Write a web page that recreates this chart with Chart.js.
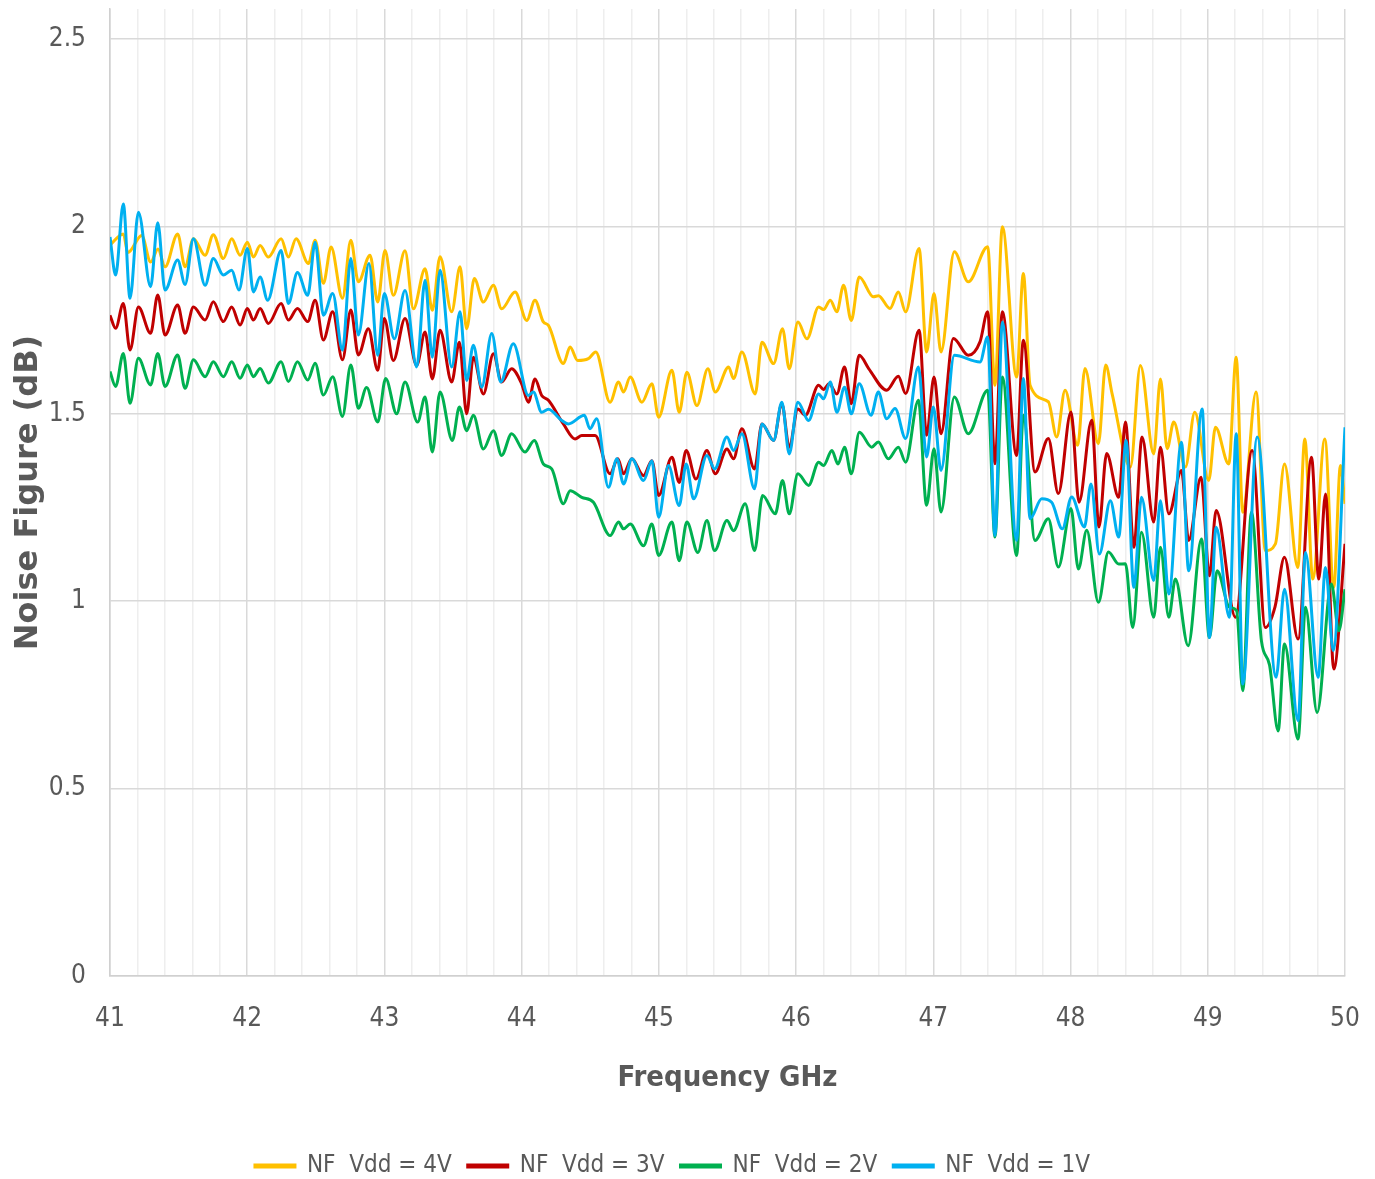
<!DOCTYPE html>
<html>
<head>
<meta charset="utf-8">
<script src="https://cdn.jsdelivr.net/npm/chart.js@4.4.1/dist/chart.umd.min.js"></script>
<style>
  html, body { margin: 0; padding: 0; background: #fff; }
  #wrap { width: 1375px; height: 1179px; }
</style>
</head>
<body>
<div id="wrap"><canvas id="chart"></canvas></div>
<script>
// frequency (GHz) / noise figure (dB) pairs, one pair of arrays per curve
var f4 = [41.00, 41.097, 41.13, 41.231, 41.296, 41.35, 41.401, 41.493, 41.547, 41.608, 41.693, 41.753, 41.826, 41.887, 41.948, 42.001, 42.045, 42.094, 42.154, 42.247, 42.300, 42.356, 42.446, 42.495, 42.555, 42.611, 42.694, 42.755, 42.810, 42.895, 42.951, 43.004, 43.065, 43.150, 43.211, 43.296, 43.349, 43.405, 43.490, 43.551, 43.599, 43.655, 43.721, 43.794, 43.854, 43.952, 44.037, 44.097, 44.158, 44.195, 44.304, 44.353, 44.408, 44.486, 44.540, 44.644, 44.706, 44.742, 44.791, 44.876, 44.949, 44.998, 45.095, 45.148, 45.204, 45.277, 45.357, 45.411, 45.508, 45.544, 45.605, 45.702, 45.751, 45.836, 45.901, 45.950, 46.013, 46.079, 46.164, 46.20, 46.249, 46.297, 46.346, 46.402, 46.460, 46.563, 46.600, 46.684, 46.745, 46.798, 46.896, 46.951, 47.005, 47.056, 47.153, 47.255, 47.396, 47.449, 47.503, 47.607, 47.656, 47.705, 47.838, 47.899, 47.960, 48.052, 48.105, 48.203, 48.256, 48.303, 48.436, 48.509, 48.606, 48.655, 48.704, 48.752, 48.837, 48.905, 49.007, 49.056, 49.153, 49.207, 49.255, 49.352, 49.420, 49.493, 49.559, 49.656, 49.707, 49.765, 49.853, 49.918, 49.967, 50.00];
var nf4 = [1.95, 1.980, 1.93, 1.976, 1.905, 1.94, 1.892, 1.980, 1.892, 1.967, 1.923, 1.978, 1.914, 1.967, 1.923, 1.958, 1.918, 1.949, 1.918, 1.967, 1.918, 1.967, 1.901, 1.963, 1.848, 1.945, 1.808, 1.963, 1.852, 1.923, 1.798, 1.936, 1.816, 1.935, 1.780, 1.887, 1.776, 1.919, 1.772, 1.892, 1.727, 1.861, 1.798, 1.843, 1.780, 1.825, 1.749, 1.803, 1.745, 1.736, 1.634, 1.678, 1.642, 1.647, 1.665, 1.531, 1.585, 1.558, 1.598, 1.531, 1.580, 1.491, 1.616, 1.504, 1.611, 1.522, 1.620, 1.558, 1.625, 1.594, 1.665, 1.553, 1.691, 1.634, 1.727, 1.620, 1.745, 1.700, 1.785, 1.778, 1.803, 1.772, 1.843, 1.749, 1.865, 1.812, 1.815, 1.781, 1.825, 1.772, 1.941, 1.665, 1.821, 1.665, 1.932, 1.852, 1.946, 1.576, 1.999, 1.598, 1.874, 1.576, 1.532, 1.438, 1.563, 1.416, 1.621, 1.420, 1.630, 1.553, 1.358, 1.629, 1.393, 1.593, 1.407, 1.478, 1.358, 1.504, 1.322, 1.464, 1.366, 1.651, 1.237, 1.558, 1.135, 1.153, 1.366, 1.090, 1.433, 1.059, 1.433, 1.037, 1.362, 1.260];

var f3 = [41.00, 41.041, 41.097, 41.146, 41.207, 41.296, 41.348, 41.401, 41.493, 41.547, 41.608, 41.693, 41.753, 41.826, 41.887, 41.948, 42.001, 42.045, 42.094, 42.154, 42.247, 42.300, 42.366, 42.441, 42.495, 42.555, 42.623, 42.694, 42.755, 42.810, 42.883, 42.951, 42.999, 43.065, 43.150, 43.235, 43.296, 43.349, 43.405, 43.490, 43.546, 43.599, 43.648, 43.721, 43.794, 43.854, 43.927, 44.000, 44.049, 44.097, 44.146, 44.195, 44.304, 44.389, 44.438, 44.535, 44.644, 44.701, 44.742, 44.803, 44.888, 44.949, 44.998, 45.095, 45.148, 45.199, 45.270, 45.350, 45.411, 45.496, 45.544, 45.605, 45.697, 45.751, 45.836, 45.896, 45.950, 46.013, 46.067, 46.164, 46.20, 46.241, 46.297, 46.353, 46.402, 46.460, 46.53, 46.660, 46.745, 46.798, 46.896, 46.951, 47.005, 47.056, 47.146, 47.255, 47.340, 47.396, 47.449, 47.503, 47.607, 47.656, 47.741, 47.838, 47.911, 48.003, 48.062, 48.154, 48.207, 48.263, 48.351, 48.400, 48.461, 48.521, 48.606, 48.655, 48.716, 48.808, 48.861, 48.951, 49.012, 49.061, 49.202, 49.323, 49.420, 49.49, 49.559, 49.658, 49.756, 49.809, 49.858, 49.918, 50.00];
var nf3 = [1.763, 1.728, 1.794, 1.670, 1.785, 1.715, 1.817, 1.710, 1.790, 1.715, 1.785, 1.750, 1.799, 1.746, 1.785, 1.737, 1.781, 1.750, 1.781, 1.741, 1.794, 1.750, 1.781, 1.746, 1.803, 1.697, 1.772, 1.644, 1.777, 1.657, 1.727, 1.616, 1.754, 1.642, 1.754, 1.629, 1.718, 1.593, 1.723, 1.585, 1.691, 1.500, 1.651, 1.553, 1.660, 1.585, 1.620, 1.580, 1.531, 1.593, 1.549, 1.536, 1.473, 1.433, 1.442, 1.442, 1.340, 1.380, 1.340, 1.380, 1.335, 1.375, 1.282, 1.384, 1.317, 1.402, 1.326, 1.402, 1.340, 1.406, 1.380, 1.460, 1.353, 1.473, 1.429, 1.527, 1.411, 1.513, 1.496, 1.576, 1.565, 1.580, 1.553, 1.625, 1.527, 1.656, 1.620, 1.563, 1.600, 1.554, 1.723, 1.443, 1.598, 1.447, 1.701, 1.656, 1.692, 1.772, 1.367, 1.772, 1.389, 1.696, 1.345, 1.434, 1.287, 1.505, 1.264, 1.483, 1.198, 1.394, 1.277, 1.478, 1.144, 1.438, 1.211, 1.411, 1.233, 1.349, 1.162, 1.331, 1.068, 1.242, 0.957, 1.402, 0.930, 0.985, 1.117, 0.899, 1.384, 1.059, 1.286, 0.819, 1.153];

var f2 = [41.00, 41.041, 41.097, 41.146, 41.207, 41.296, 41.348, 41.401, 41.493, 41.547, 41.608, 41.693, 41.753, 41.826, 41.887, 41.948, 42.001, 42.045, 42.094, 42.154, 42.247, 42.300, 42.366, 42.441, 42.495, 42.555, 42.623, 42.694, 42.755, 42.810, 42.87, 42.951, 43.009, 43.089, 43.150, 43.242, 43.296, 43.349, 43.405, 43.495, 43.546, 43.599, 43.648, 43.721, 43.794, 43.854, 43.927, 44.024, 44.092, 44.158, 44.219, 44.304, 44.353, 44.438, 44.523, 44.645, 44.706, 44.742, 44.791, 44.888, 44.949, 44.998, 45.095, 45.148, 45.204, 45.284, 45.350, 45.406, 45.496, 45.544, 45.629, 45.697, 45.756, 45.848, 45.901, 45.950, 46.013, 46.091, 46.164, 46.20, 46.261, 46.305, 46.353, 46.402, 46.461, 46.551, 46.599, 46.672, 46.745, 46.798, 46.891, 46.951, 47.005, 47.056, 47.153, 47.255, 47.396, 47.449, 47.503, 47.607, 47.656, 47.741, 47.838, 47.911, 48.003, 48.057, 48.118, 48.203, 48.276, 48.351, 48.40, 48.453, 48.517, 48.606, 48.655, 48.716, 48.764, 48.857, 48.954, 49.012, 49.068, 49.158, 49.21, 49.255, 49.318, 49.391, 49.45, 49.513, 49.559, 49.658, 49.712, 49.797, 49.901, 49.955, 50.00];
var nf2 = [1.613, 1.573, 1.661, 1.528, 1.648, 1.577, 1.661, 1.573, 1.657, 1.568, 1.644, 1.599, 1.639, 1.599, 1.639, 1.595, 1.630, 1.599, 1.621, 1.582, 1.639, 1.586, 1.639, 1.590, 1.635, 1.550, 1.599, 1.493, 1.630, 1.515, 1.570, 1.478, 1.594, 1.500, 1.585, 1.478, 1.545, 1.398, 1.558, 1.429, 1.518, 1.455, 1.496, 1.406, 1.455, 1.389, 1.447, 1.398, 1.429, 1.366, 1.353, 1.260, 1.295, 1.277, 1.264, 1.175, 1.211, 1.193, 1.206, 1.148, 1.206, 1.122, 1.211, 1.108, 1.211, 1.130, 1.215, 1.135, 1.215, 1.188, 1.260, 1.135, 1.282, 1.233, 1.322, 1.233, 1.340, 1.309, 1.371, 1.362, 1.402, 1.366, 1.411, 1.340, 1.451, 1.411, 1.425, 1.380, 1.411, 1.371, 1.536, 1.256, 1.407, 1.238, 1.545, 1.447, 1.563, 1.171, 1.598, 1.122, 1.496, 1.162, 1.220, 1.091, 1.247, 1.086, 1.189, 0.997, 1.131, 1.099, 1.10, 0.930, 1.184, 0.957, 1.144, 0.957, 1.059, 0.881, 1.166, 0.903, 1.081, 0.984, 0.975, 0.761, 1.237, 0.894, 0.83, 0.654, 0.886, 0.632, 0.984, 0.703, 1.046, 0.921, 1.032];

var f1 = [41.00, 41.041, 41.097, 41.146, 41.207, 41.296, 41.348, 41.401, 41.493, 41.547, 41.608, 41.693, 41.753, 41.826, 41.887, 41.940, 42.001, 42.045, 42.094, 42.149, 42.247, 42.300, 42.366, 42.441, 42.495, 42.555, 42.623, 42.694, 42.755, 42.810, 42.887, 42.951, 42.999, 43.072, 43.150, 43.235, 43.296, 43.349, 43.405, 43.490, 43.551, 43.599, 43.648, 43.709, 43.782, 43.847, 43.939, 44.049, 44.085, 44.146, 44.195, 44.292, 44.340, 44.457, 44.498, 44.547, 44.632, 44.694, 44.742, 44.803, 44.888, 44.949, 44.998, 45.070, 45.148, 45.199, 45.253, 45.350, 45.406, 45.496, 45.544, 45.605, 45.697, 45.751, 45.836, 45.896, 45.950, 46.013, 46.091, 46.164, 46.20, 46.249, 46.297, 46.353, 46.402, 46.460, 46.546, 46.599, 46.660, 46.721, 46.798, 46.891, 46.951, 47.000, 47.056, 47.153, 47.340, 47.396, 47.449, 47.503, 47.607, 47.656, 47.705, 47.790, 47.862, 47.940, 48.008, 48.101, 48.149, 48.210, 48.29, 48.351, 48.405, 48.461, 48.517, 48.606, 48.655, 48.716, 48.808, 48.861, 48.959, 49.012, 49.061, 49.158, 49.207, 49.255, 49.360, 49.498, 49.559, 49.658, 49.712, 49.804, 49.858, 49.914, 50.00];
var nf1 = [1.972, 1.870, 2.060, 1.808, 2.038, 1.839, 2.010, 1.830, 1.910, 1.845, 1.967, 1.843, 1.914, 1.870, 1.883, 1.830, 1.941, 1.825, 1.865, 1.803, 1.936, 1.794, 1.877, 1.816, 1.958, 1.763, 1.821, 1.670, 1.914, 1.710, 1.901, 1.656, 1.821, 1.700, 1.829, 1.625, 1.856, 1.651, 1.883, 1.625, 1.772, 1.589, 1.683, 1.571, 1.714, 1.585, 1.687, 1.549, 1.558, 1.504, 1.512, 1.482, 1.473, 1.496, 1.460, 1.487, 1.304, 1.380, 1.313, 1.380, 1.322, 1.375, 1.224, 1.362, 1.255, 1.366, 1.273, 1.389, 1.353, 1.438, 1.402, 1.447, 1.300, 1.473, 1.429, 1.531, 1.393, 1.531, 1.482, 1.553, 1.540, 1.585, 1.504, 1.571, 1.500, 1.580, 1.496, 1.558, 1.487, 1.514, 1.434, 1.625, 1.385, 1.518, 1.349, 1.656, 1.638, 1.705, 1.175, 1.745, 1.162, 1.594, 1.220, 1.273, 1.264, 1.193, 1.278, 1.198, 1.313, 1.126, 1.268, 1.171, 1.429, 1.037, 1.277, 1.055, 1.268, 1.019, 1.424, 1.081, 1.513, 0.903, 1.197, 0.957, 1.447, 0.779, 1.438, 0.797, 1.032, 0.681, 1.130, 0.797, 1.090, 0.868, 1.464];

var labels = ['NF  Vdd = 4V', 'NF  Vdd = 3V', 'NF  Vdd = 2V', 'NF  Vdd = 1V'];
var yTicks = [0, 0.5, 1, 1.5, 2, 2.5];

var narrow = "'Liberation Sans Narrow', 'DejaVu Sans Condensed', Lato, sans-serif";
var grey = '#595959';

function pairs(xs, ys) {
    return xs.map(function (x, i) {
        return { x: x, y: ys[i] };
    });
}

function series(label, xs, ys, color, order) {
    return {
        label: label,
        data: pairs(xs, ys),
        borderColor: color,
        backgroundColor: color,
        borderWidth: 3,
        pointRadius: 0,
        cubicInterpolationMode: 'monotone',
        fill: false,
        order: order
    };
}

const ctx = document.getElementById('chart');
new Chart(ctx, {
    type: 'line',
    data: {
        datasets: [
            series(labels[0], f4, nf4, '#FFC000', 4),
            series(labels[1], f3, nf3, '#C00000', 3),
            series(labels[2], f2, nf2, '#00B050', 2),
            series(labels[3], f1, nf1, '#00B0F0', 1)
        ]
    },
    options: {
        responsive: true,
        maintainAspectRatio: false,
        animation: false,
        layout: { padding: { left: 0, right: 30, top: 9, bottom: -9 } },
        plugins: {
            tooltip: { enabled: false },
            legend: {
                position: 'bottom',
                reverse: true,
                labels: {
                    boxWidth: 40,
                    boxHeight: 2,
                    padding: 16,
                    color: grey,
                    font: { family: narrow, size: 24 }
                }
            }
        },
        scales: {
            x: {
                type: 'linear',
                min: 41,
                max: 50,
                afterFit: function (scale) {
                    scale.height = 162;
                    scale.paddingLeft = 0;
                    scale.paddingRight = 0;
                },
                grid: {
                    drawTicks: false,
                    color: function (c) {
                        var v = c.tick ? c.tick.value : 0;
                        return Math.abs(v - Math.round(v)) < 1e-6 ? '#d9d9d9' : '#eeeeee';
                    },
                    lineWidth: 1.5
                },
                border: { color: '#d0d0d0', width: 1.5 },
                ticks: {
                    stepSize: 0.2,
                    autoSkip: false,
                    maxRotation: 0,
                    padding: 28,
                    color: grey,
                    font: { family: narrow, size: 26 },
                    callback: function (v) {
                        return Math.abs(v - Math.round(v)) < 1e-6 ? String(Math.round(v)) : '';
                    }
                },
                title: {
                    display: true,
                    text: 'Frequency GHz',
                    color: grey,
                    font: { family: narrow, size: 29, weight: 'bold' },
                    padding: { top: 0, bottom: 42 }
                }
            },
            y: {
                min: 0,
                max: 2.58,
                afterFit: function (scale) {
                    scale.width = 110;
                    scale.paddingTop = 0;
                    scale.paddingBottom = 0;
                },
                afterBuildTicks: function (scale) {
                    scale.ticks = yTicks.map(function (v) { return { value: v }; });
                },
                grid: { drawTicks: false, color: '#d9d9d9', lineWidth: 1.5 },
                border: { color: '#d0d0d0', width: 1.5 },
                ticks: {
                    padding: 24,
                    color: grey,
                    font: { family: narrow, size: 26 },
                    callback: function (v) { return String(v); }
                },
                title: {
                    display: true,
                    text: 'Noise Figure (dB)',
                    color: grey,
                    font: { family: "'DejaVu Sans', sans-serif", size: 32, weight: 'bold' },
                    padding: { top: 9, bottom: 0 }
                }
            }
        }
    }
});
</script>
</body>
</html>
